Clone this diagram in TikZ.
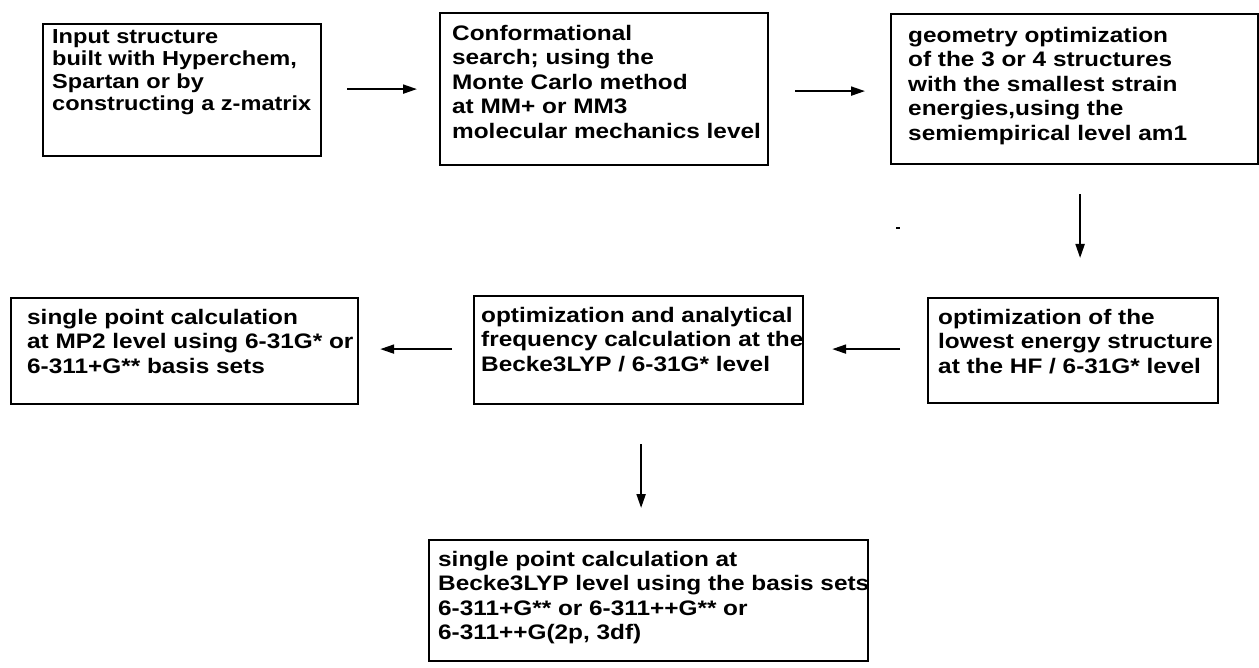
\documentclass[tikz,border=0pt]{standalone}
\usepackage{fontspec}
\setmainfont{Liberation Sans}[FakeStretch=1.16]
\usetikzlibrary{arrows.meta,calc}

% \flowbox{name}{left}{top}{right}{bottom}{text x pad}{text y pad}{text}
% a style "<name> font", if defined, overrides the text font of that box
\newcommand\flowbox[8]{%
  \node[stepbox, minimum width={#4-#2}, minimum height={#5-#3}] (#1) at (#2,-#3) {};
  \node[boxtext, #1 font/.try] (#1-text) at ($(#1.north west)+(#6,-#7)$) {#8};}

\begin{document}
\begin{tikzpicture}[x=1pt,y=1pt,
  stepbox/.style={draw, line width=2.2pt, inner sep=0pt, anchor=north west},
  boxtext/.style={anchor=north west, inner sep=0pt, align=left,
    font=\fontsize{21}{24.5}\selectfont\bfseries},
  input font/.style={font=\fontsize{20.3}{22.5}\selectfont\bfseries},
  flow/.style={line width=2pt, -{Triangle[length=14pt,width=9pt]}}]
\useasboundingbox (0,0) rectangle (1259,-668);

% top row
\flowbox{input}{42}{23}{320}{155}{10}{6}{Input structure\\built with Hyperchem,\\Spartan or by\\constructing a z-matrix}
\flowbox{confsearch}{439}{12}{767}{164}{13}{13}{Conformational\\search; using the\\Monte Carlo method\\at MM+ or MM3\\molecular mechanics level}
\flowbox{geomopt}{890}{13}{1257}{163}{18}{14}{geometry optimization\\of the 3 or 4 structures\\with the smallest strain\\energies,using the\\semiempirical level am1}

% middle row
\flowbox{hfopt}{927}{297}{1217}{402}{11}{12}{optimization of the\\lowest energy structure\\at the HF / 6-31G* level}
\flowbox{dftopt}{473}{295}{802}{403}{8}{12}{optimization and analytical\\frequency calculation at the\\Becke3LYP / 6-31G* level}
\flowbox{mptwo}{10}{297}{357}{403}{17}{12}{single point calculation\\at MP2 level using 6-31G* or\\6-311+G** basis sets}

% bottom box
\flowbox{dftsp}{428}{539}{867}{660}{10}{12}{single point calculation at\\Becke3LYP level using the basis sets\\6-311+G** or 6-311++G** or\\6-311++G(2p, 3df)}

% connectors
\draw[flow] ($(input.east)+(25,1)$) -- ($(confsearch.west)+(-22,0)$);
\draw[flow] ($(confsearch.east)+(26,-2)$) -- ($(geomopt.west)+(-25,-2)$);
\draw[flow] ($(geomopt.south)+(5.5,-29)$) -- ($(hfopt.north)+(7,39)$);
\draw[flow] ($(hfopt.west)+(-27,1.5)$) -- ($(dftopt.east)+(28,1)$);
\draw[flow] ($(dftopt.west)+(-21,1)$) -- ($(mptwo.east)+(21,2)$);
\draw[flow] ($(dftopt.south)+(2.5,-39)$) -- ($(dftsp.north)+(-7.5,31)$);

% small stray mark
\fill (896,-227) rectangle (900,-229.5);
\end{tikzpicture}
\end{document}
